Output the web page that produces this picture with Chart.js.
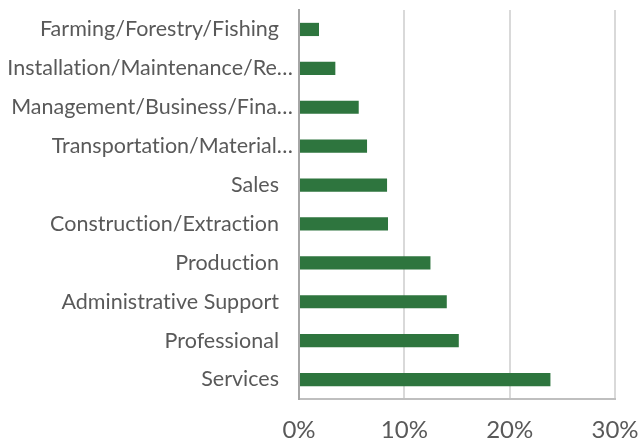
<!DOCTYPE html>
<html><head><meta charset="utf-8">
<script src="https://cdn.jsdelivr.net/npm/chart.js@4"></script>
<style>html,body{margin:0;padding:0;background:#fff}#wrap{width:641px;height:440px}</style>
</head><body><div id="wrap"><canvas id="c" width="641" height="440"></canvas></div>
<script>
const categories = ["Farming/Forestry/Fishing","Installation/Maintenance/Re…","Management/Business/Fina…","Transportation/Material…","Sales","Construction/Extraction","Production","Administrative Support","Professional","Services"];
const shares = [1.9, 3.45, 5.67, 6.46, 8.36, 8.45, 12.48, 14.03, 15.17, 23.87];
const xTicks = [0, 10, 20, 30];

const yLabels = {
  id: 'yLabels',
  afterDraw(chart) {
    const s = chart.scales.y, ctx = chart.ctx;
    ctx.save();
    ctx.font = '21.5px Lato';
    if ('letterSpacing' in ctx) ctx.letterSpacing = '0.01px';
    ctx.fillStyle = '#595959';
    ctx.textAlign = 'right';
    ctx.textBaseline = 'middle';
    chart.data.labels.forEach((lab, i) => {
      const y = s.getPixelForTick(i);
      const x = lab.endsWith('…') ? s.right - 6 : s.right - 20;
      ctx.fillText(lab, x, y);
    });
    ctx.restore();
  }
};

new Chart(document.getElementById('c'), {
  type: 'bar',
  data: { labels: categories, datasets: [{ data: shares, backgroundColor: '#2e753e', borderWidth: 0, barPercentage: 0.34, categoryPercentage: 1 }] },
  options: {
    indexAxis: 'y', responsive: false, animation: false,
    layout: { padding: { top: 10, right: 26, left: 0, bottom: 0 } },
    plugins: { legend: { display: false }, tooltip: { enabled: false } },
    scales: {
      x: {
        min: 0, max: 30,
        afterBuildTicks: s => { s.ticks = xTicks.map(v => ({ value: v })); },
        afterFit: s => { s.height = 41; s.paddingLeft = 0; s.paddingRight = 0; },
        ticks: { callback: v => v + '%', color: '#595959', font: { family: 'Lato', size: 24 }, padding: 17, maxRotation: 0 },
        grid: { color: ctx => ctx.tick && ctx.tick.value === 0 ? '#a6a6a6' : '#d9d9d9', lineWidth: 2, drawTicks: false },
        border: { display: true, color: '#bfbfbf', width: 2 }
      },
      y: {
        afterFit: s => { s.width = 299; s.paddingTop = 0; s.paddingBottom = 0; },
        ticks: { display: false },
        grid: { display: false, drawTicks: false },
        border: { display: true, color: '#a6a6a6', width: 2 }
      }
    }
  },
  plugins: [yLabels]
});
</script></body></html>
